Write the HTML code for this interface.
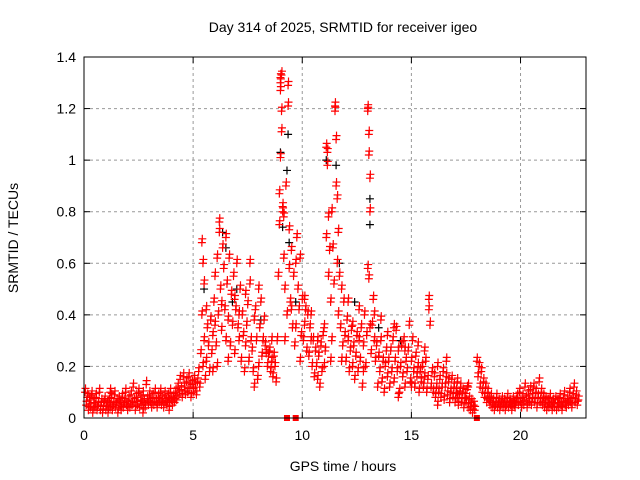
<!DOCTYPE html>
<html><head><meta charset="utf-8"><style>
body{margin:0;background:#fff;}
svg{display:block;font-family:"Liberation Sans",sans-serif;}
</style></head><body>
<svg id="chart" width="640" height="480" viewBox="0 0 640 480" xmlns="http://www.w3.org/2000/svg">
<rect width="640" height="480" fill="#fff"/>
<text x="343" y="32" font-size="14" text-anchor="middle">Day 314 of 2025, SRMTID for receiver igeo</text>
<text x="343" y="471" font-size="14" text-anchor="middle">GPS time / hours</text>
<text x="0" y="0" font-size="14" text-anchor="middle" transform="translate(18,238) rotate(-90)">SRMTID / TECUs</text>
<g id="grid"></g>
<g id="blackPts"></g>
<g id="redPts"></g>
<rect x="84" y="57" width="502" height="361" fill="none" stroke="#000" stroke-width="1"/>
<g id="ticks"></g>
</svg>
<script>
const xTicks=[0,5,10,15,20];
const yTicks=[0,0.2,0.4,0.6,0.8,1,1.2,1.4];
const yTickLabels=["0","0.2","0.4","0.6","0.8","1","1.2","1.4"];
const redPoints=[
[0.05,0.1],[0.1,0.05],[0.15,0.08],[0.2,0.03],[0.25,0.07],[0.3,0.04],[0.35,0.09],[0.4,0.02],[0.45,0.06],[0.5,0.04],[0.55,0.08],[0.6,0.03],[0.65,0.05],[0.7,0.1],[0.75,0.03],[0.8,0.06],[0.85,0.02],[0.9,0.05],[0.95,0.07],[1.0,0.03],[1.05,0.05],[1.1,0.02],[1.15,0.06],[1.2,0.04],[1.25,0.08],[1.3,0.03],[1.35,0.05],[1.4,0.09],[1.45,0.04],[1.5,0.06],[1.55,0.02],[1.6,0.07],[1.65,0.05],[1.7,0.03],[1.75,0.08],[1.8,0.04],[1.85,0.06],[1.9,0.1],[1.95,0.05],[2.0,0.03],[2.05,0.07],[2.1,0.04],[2.15,0.09],[2.2,0.05],[2.25,0.12],[2.3,0.06],[2.35,0.03],[2.4,0.08],[2.45,0.05],[2.5,0.1],[2.55,0.04],[2.6,0.07],[2.65,0.05],[2.7,0.09],[2.75,0.06],[2.8,0.04],[2.85,0.13],[2.9,0.07],[2.95,0.05],[3.0,0.09],[3.05,0.06],[3.1,0.04],[3.15,0.08],[3.2,0.05],[3.25,0.1],[3.3,0.06],[3.35,0.04],[3.4,0.08],[3.45,0.06],[3.5,0.1],[3.55,0.05],[3.6,0.07],[3.65,0.04],[3.7,0.09],[3.75,0.06],[3.8,0.05],[3.85,0.08],[3.9,0.06],[3.95,0.1],[4.0,0.07],[4.05,0.05],[4.1,0.08],[4.15,0.06],[4.2,0.1],[4.25,0.07],[4.3,0.12],[4.35,0.09],[4.4,0.15],[4.45,0.11],[4.5,0.08],[4.55,0.16],[4.6,0.12],[4.65,0.09],[4.7,0.14],[4.75,0.1],[4.8,0.16],[4.85,0.12],[4.9,0.08],[4.95,0.13],[5.0,0.1],[5.05,0.15],[5.1,0.12],[5.15,0.09],[5.2,0.14],[5.25,0.18],[5.3,0.12],
[5.35,0.25],[5.4,0.4],[5.4,0.68],[5.45,0.6],[5.45,0.2],[5.5,0.52],[5.5,0.3],[5.55,0.15],[5.6,0.22],[5.65,0.35],[5.7,0.28],[5.75,0.18],[5.8,0.38],[5.85,0.25],[5.9,0.32],[5.95,0.45],[6.0,0.36],[6.0,0.55],[6.05,0.28],[6.1,0.62],[6.15,0.4],[6.2,0.76],[6.2,0.72],[6.25,0.5],[6.3,0.34],[6.35,0.66],[6.4,0.58],[6.45,0.42],[6.5,0.7],[6.5,0.3],[6.55,0.52],[6.6,0.38],[6.65,0.62],[6.7,0.28],[6.75,0.48],[6.8,0.36],[6.85,0.55],[6.9,0.25],[6.95,0.42],[7.0,0.6],[7.05,0.35],[7.1,0.3],[7.15,0.5],[7.2,0.22],[7.25,0.4],[7.3,0.32],[7.35,0.18],[7.4,0.28],[7.45,0.36],[7.5,0.44],[7.55,0.22],[7.6,0.6],[7.6,0.52],[7.65,0.3],[7.7,0.26],[7.75,0.18],[7.8,0.38],[7.85,0.42],[7.9,0.3],[7.95,0.15],[8.0,0.5],[8.05,0.35],[8.1,0.45],[8.15,0.24],[8.2,0.3],[8.25,0.38],[8.3,0.28],[8.35,0.25],[8.4,0.2],[8.45,0.24],[8.5,0.26],[8.55,0.18],[8.6,0.22],[8.65,0.16],[8.7,0.24],[8.75,0.2],[8.8,0.14],[8.85,0.3],[8.9,0.55],[8.95,0.87],[9.0,1.32],[9.0,1.3],[9.0,1.27],[9.05,1.33],[9.05,1.11],[9.05,1.19],[9.0,1.01],[8.95,0.75],[9.1,0.8],[9.1,0.82],[9.15,0.78],[9.15,0.62],[9.2,0.3],[9.2,0.5],[9.25,0.9],[9.3,0.4],[9.35,1.29],[9.35,1.21],[9.4,0.73],[9.4,0.58],[9.45,0.45],[9.5,0.65],[9.55,0.35],[9.6,0.55],[9.65,0.28],[9.7,0.6],[9.75,0.7],[9.8,0.5],[9.85,0.42],[9.9,0.62],[9.95,0.32],[10.0,0.46],[10.05,0.3],[10.1,0.36],[10.15,0.42],[10.2,0.26],[10.25,0.4],[10.3,0.24],[10.35,0.35],[10.4,0.3],[10.45,0.2],[10.5,0.3],[10.55,0.16],[10.6,0.26],[10.65,0.2],[10.7,0.3],[10.75,0.24],[10.8,0.12],[10.85,0.28],[10.9,0.18],[10.95,0.32],[11.0,0.2],[11.05,0.26],[11.1,0.7],[11.1,1.05],[11.15,1.03],[11.15,0.98],[11.2,0.78],[11.2,0.55],[11.25,0.65],[11.3,0.45],[11.35,0.8],[11.35,0.3],[11.4,0.66],[11.45,0.52],[11.5,1.21],[11.5,1.19],[11.55,1.08],[11.55,0.9],[11.6,0.85],[11.6,0.6],[11.65,0.72],[11.65,0.4],[11.7,0.55],[11.75,0.35],[11.8,0.5],[11.85,0.28],[11.9,0.45],[11.95,0.32],[12.0,0.22],[12.05,0.38],[12.1,0.3],[12.15,0.18],[12.2,0.26],[12.25,0.34],[12.3,0.2],[12.35,0.28],[12.4,0.15],[12.45,0.24],[12.5,0.32],[12.55,0.18],[12.6,0.3],[12.65,0.22],[12.7,0.35],[12.75,0.12],[12.8,0.28],[12.85,0.4],[12.9,0.2],[12.95,0.32],[13.0,1.2],[13.0,1.19],[13.05,1.1],[13.05,1.02],[13.1,0.93],[13.1,0.8],[13.0,0.58],[13.05,0.54],[13.1,0.35],[13.15,0.25],[13.2,0.36],[13.25,0.46],[13.3,0.3],[13.35,0.22],[13.4,0.28],[13.45,0.12],[13.5,0.24],[13.55,0.18],[13.6,0.3],[13.65,0.14],[13.7,0.22],[13.75,0.1],[13.8,0.2],[13.85,0.26],[13.9,0.16],[13.95,0.22],[14.0,0.12],[14.05,0.26],[14.1,0.18],[14.15,0.3],[14.2,0.14],[14.25,0.22],[14.3,0.34],[14.35,0.18],[14.4,0.26],[14.45,0.1],[14.5,0.2],[14.55,0.28],[14.6,0.16],[14.65,0.3],[14.7,0.12],[14.75,0.22],[14.8,0.18],[14.85,0.26],[14.9,0.36],[14.95,0.14],[15.0,0.22],[15.05,0.3],[15.1,0.18],[15.15,0.12],[15.2,0.24],[15.25,0.16],[15.3,0.2],[15.35,0.1],[15.4,0.18],[15.45,0.14],[15.5,0.2],[15.55,0.12],[15.6,0.16],[15.65,0.22],[15.7,0.1],[15.75,0.15],[15.8,0.46],[15.8,0.42],[15.85,0.36],[15.9,0.12],[15.95,0.18],[16.0,0.1],[16.05,0.16],[16.1,0.08],[16.15,0.12],[16.2,0.2],[16.25,0.1],[16.3,0.15],[16.35,0.08],[16.4,0.12],[16.45,0.18],[16.5,0.07],[16.55,0.12],[16.6,0.16],[16.65,0.09],[16.7,0.14],[16.75,0.06],[16.8,0.1],[16.85,0.15],[16.9,0.08],[16.95,0.12],[17.0,0.06],[17.05,0.1],[17.1,0.14],[17.15,0.05],[17.2,0.09],[17.25,0.12],[17.3,0.06],[17.35,0.1],[17.4,0.04],[17.45,0.08],[17.5,0.06],[17.55,0.11],[17.6,0.04],[17.65,0.07],[17.7,0.03],[17.75,0.06],[17.8,0.02],[17.85,0.05],[17.9,0.03],
[18.0,0.22],[18.05,0.16],[18.1,0.2],[18.15,0.12],[18.2,0.18],[18.25,0.1],[18.3,0.14],[18.35,0.08],[18.4,0.12],[18.45,0.06],[18.5,0.1],[18.55,0.07],[18.6,0.05],[18.65,0.08],[18.7,0.04],[18.75,0.06],[18.8,0.03],[18.85,0.05],[18.9,0.08],[18.95,0.04],[19.0,0.06],[19.05,0.03],[19.1,0.05],[19.15,0.07],[19.2,0.04],[19.25,0.06],[19.3,0.03],[19.35,0.05],[19.4,0.08],[19.45,0.04],[19.5,0.06],[19.55,0.05],[19.6,0.03],[19.65,0.07],[19.7,0.05],[19.75,0.04],[19.8,0.06],[19.85,0.08],[19.9,0.05],[19.95,0.1],[20.0,0.06],[20.05,0.04],[20.1,0.08],[20.15,0.05],[20.2,0.12],[20.25,0.07],[20.3,0.04],[20.35,0.09],[20.4,0.06],[20.45,0.11],[20.5,0.05],[20.55,0.08],[20.6,0.12],[20.65,0.06],[20.7,0.1],[20.75,0.04],[20.8,0.08],[20.85,0.14],[20.9,0.06],[20.95,0.1],[21.0,0.05],[21.05,0.08],[21.1,0.04],[21.15,0.07],[21.2,0.03],[21.25,0.06],[21.3,0.04],[21.35,0.08],[21.4,0.05],[21.45,0.03],[21.5,0.06],[21.55,0.04],[21.6,0.07],[21.65,0.03],[21.7,0.06],[21.75,0.04],[21.8,0.08],[21.85,0.05],[21.9,0.03],[21.95,0.06],[22.0,0.09],[22.05,0.05],[22.1,0.04],[22.15,0.07],[22.2,0.05],[22.25,0.1],[22.3,0.06],[22.35,0.04],[22.4,0.08],[22.45,0.12],[22.5,0.06],[22.55,0.09],[22.6,0.05],[22.65,0.07],
[5.6,0.42],[5.9,0.18],[6.1,0.2],[6.3,0.44],[6.6,0.22],[6.9,0.46],[7.1,0.4],[7.4,0.48],[7.8,0.12],[8.0,0.2],[8.6,0.3],[9.5,0.42],[9.7,0.35],[9.9,0.22],[10.1,0.46],[10.4,0.4],[10.7,0.15],[11.0,0.35],[11.3,0.22],[11.8,0.22],[12.1,0.45],[12.3,0.36],[12.6,0.42],[12.8,0.18],[13.3,0.4],[13.6,0.38],[13.9,0.32],[14.2,0.35],[14.4,0.08],[14.7,0.26],[15.0,0.12],[15.3,0.28],[15.6,0.26],[16.2,0.05],[16.6,0.22],[17.1,0.08],[17.6,0.12],[2.7,0.02],[1.2,0.1],[3.9,0.03]
];
const blackPoints=[
[9.0,1.03],[9.35,1.1],[9.3,0.96],[9.1,0.74],[9.4,0.68],[11.1,1.0],[11.55,0.98],[13.1,0.75],[13.1,0.85],[6.35,0.72],[6.5,0.66],[5.5,0.5],[7.0,0.5],[9.7,0.45],[11.7,0.6],[12.4,0.45],[13.5,0.35],[14.5,0.3],[6.8,0.45],[8.1,0.38]
];
const squarePoints=[[9.3,0],[9.7,0],[18.0,0]];
const X0=84,X1=586,Y0=418,Y1=57,XMAX=23,YMAX=1.4;
const sx=t=>X0+(X1-X0)*t/XMAX;
const sy=v=>Y0-(Y0-Y1)*v/YMAX;
const NS="http://www.w3.org/2000/svg";
function mk(tag,attrs,parent){const e=document.createElementNS(NS,tag);for(const k in attrs)e.setAttribute(k,attrs[k]);parent.appendChild(e);return e;}
const grid=document.getElementById('grid'),ticks=document.getElementById('ticks');
yTicks.forEach((v,i)=>{const y=sy(v);
 if(i>0&&i<yTicks.length-1){const l=mk('line',{x1:X0,x2:X1,y1:y,y2:y,stroke:'#999','stroke-dasharray':'3,3'},grid);}
 mk('line',{x1:X0,x2:X0+6,y1:y,y2:y,stroke:'#000'},ticks);mk('line',{x1:X1,x2:X1-6,y1:y,y2:y,stroke:'#000'},ticks);
 const t=mk('text',{x:X0-8,y:y+5,'font-size':14,'text-anchor':'end'},ticks);t.textContent=yTickLabels[i];
 
 });
xTicks.forEach((v,i)=>{const x=sx(v);
 if(i>0){const l=mk('line',{x1:x,x2:x,y1:Y0,y2:Y1,stroke:'#999','stroke-dasharray':'3,3'},grid);}
 mk('line',{x1:x,x2:x,y1:Y0,y2:Y0-6,stroke:'#000'},ticks);mk('line',{x1:x,x2:x,y1:Y1,y2:Y1+6,stroke:'#000'},ticks);
 const t=mk('text',{x:x,y:Y0+22,'font-size':14,'text-anchor':'middle'},ticks);t.textContent=String(v);
 
 });
function cross(g,t,v,col){const x=sx(t),y=sy(v);
 const p=mk('path',{d:`M${x-4},${y}H${x+4}M${x},${y-4}V${y+4}`,stroke:col,'stroke-width':1.2,fill:'none'},g);
 
 }
const bg=document.getElementById('blackPts'),rg=document.getElementById('redPts');
blackPoints.forEach(p=>cross(bg,p[0],p[1],'#000'));
redPoints.forEach(p=>{cross(rg,p[0],p[1],'#f00');cross(rg,p[0]+0.02,p[1]+0.015,'#f00');});
squarePoints.forEach(p=>{const r=mk('rect',{x:sx(p[0])-3,y:sy(p[1])-3,width:6,height:6,fill:'#f00'},rg);
 
 });
</script>
</body></html>
